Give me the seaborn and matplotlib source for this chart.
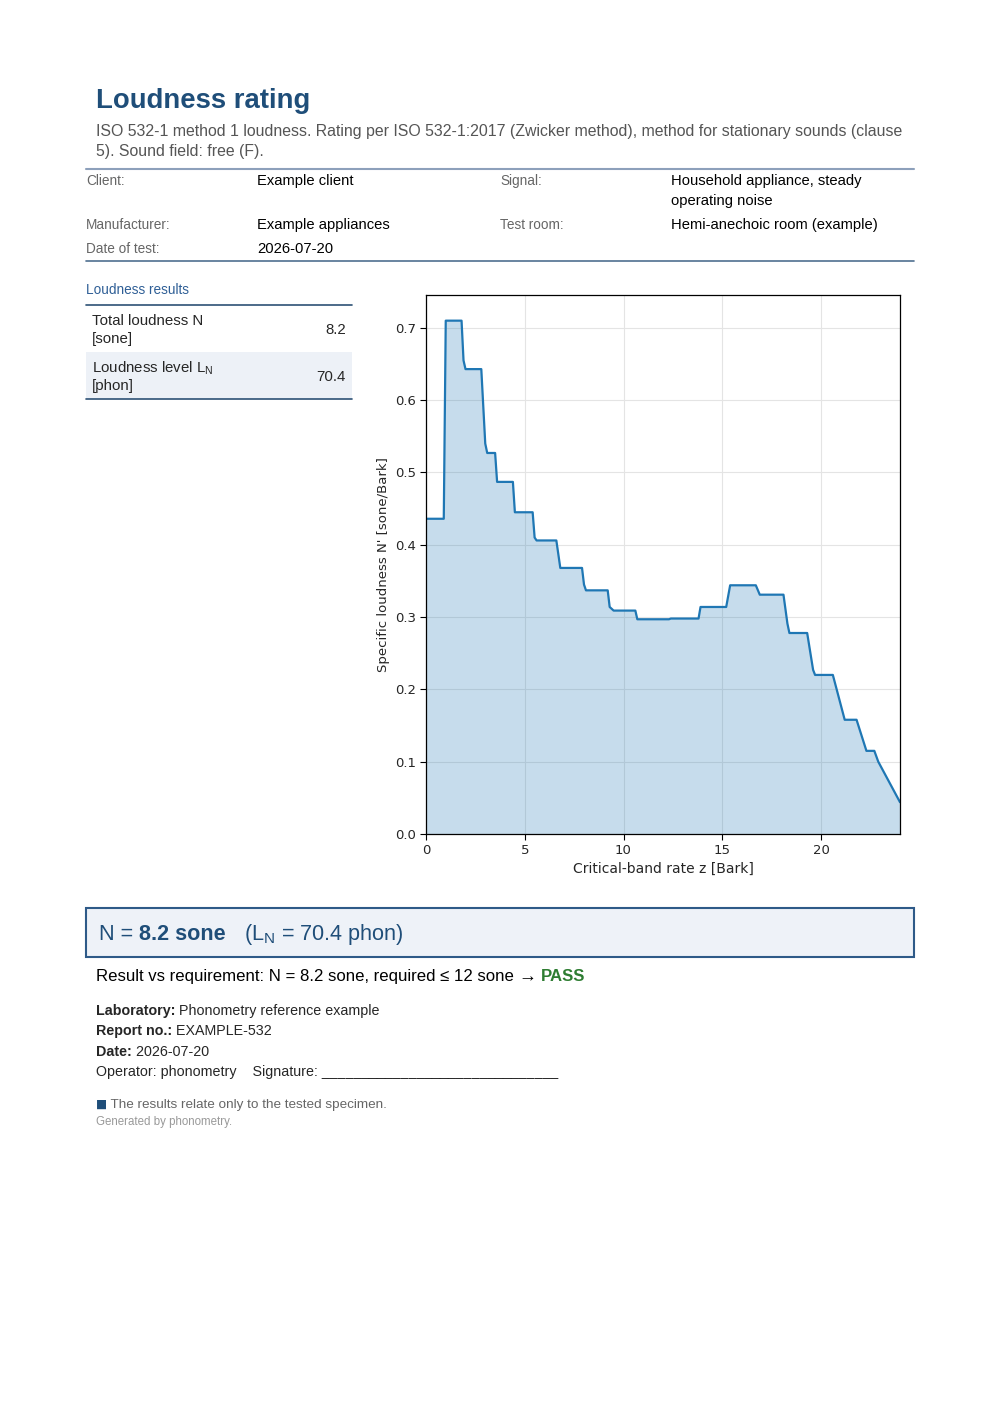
import numpy as np
import pandas as pd
import matplotlib
matplotlib.use("Agg")
import matplotlib.pyplot as plt
import seaborn as sns
from matplotlib.patches import Rectangle

# specific loudness curve, vertices (z in Bark, N' in sone/Bark)
z_bark = [0.0, 0.9, 1.0, 1.8, 1.9, 2.0, 2.8, 3.0, 3.1, 3.5, 3.6, 4.4, 4.5, 5.4, 5.5, 5.6,
          6.6, 6.8, 7.9, 8.0, 8.1, 9.2, 9.3, 9.5, 10.6, 10.7, 12.3, 12.4, 13.8, 13.9,
          15.2, 15.4, 16.7, 16.9, 18.1, 18.3, 18.4, 19.3, 19.6, 19.7, 20.6, 21.2, 21.8,
          22.3, 22.7, 22.9, 24.0]
n_spec = [0.436, 0.436, 0.710, 0.710, 0.655, 0.643, 0.643, 0.540, 0.527, 0.527, 0.487,
          0.487, 0.445, 0.445, 0.410, 0.406, 0.406, 0.368, 0.368, 0.345, 0.337, 0.337,
          0.314, 0.309, 0.309, 0.297, 0.297, 0.298, 0.298, 0.314, 0.314, 0.344, 0.344,
          0.331, 0.331, 0.291, 0.278, 0.278, 0.227, 0.220, 0.220, 0.158, 0.158, 0.115,
          0.115, 0.100, 0.044]

info_left = [("Client:", "Example client"), ("Manufacturer:", "Example appliances"),
             ("Date of test:", "2026-07-20")]
info_right = [("Signal:", "Household appliance, steady\noperating noise"),
              ("Test room:", "Hemi-anechoic room (example)")]
total_loudness = 8.2
loudness_level = 70.4
requirement = 12

TITLE = "#1f4e79"
W, H = 1000, 1415

sns.set_style("whitegrid", {"axes.edgecolor": "black", "grid.color": "#e6e6e6",
                            "xtick.bottom": True, "ytick.left": True})
plt.rcParams["mathtext.fontset"] = "custom"
plt.rcParams["mathtext.rm"] = "Liberation Sans"

fig = plt.figure(figsize=(10, 14.15), dpi=100)
renderer = fig.canvas.get_renderer()
SANS = "Liberation Sans"


def fx(x):
    return x / W


def fy(y):
    return 1 - y / H


def txt(x, y, s, **kw):
    kw.setdefault("family", SANS)
    kw.setdefault("va", "baseline")
    return fig.text(fx(x), fy(y), s, **kw)


def runs(x, y, parts, **kw):
    # draw text pieces one after another on one baseline
    for s, extra in parts:
        opts = dict(kw)
        opts.update(extra)
        t = txt(x, y, s, **opts)
        bb = t.get_window_extent(renderer)
        x = bb.x1


def hline(x0, x1, y, color, lw):
    fig.add_artist(plt.Line2D([fx(x0), fx(x1)], [fy(y), fy(y)], color=color, lw=lw))


# header
txt(96, 108, "Loudness rating", size=19.8, weight="bold", color=TITLE)
txt(96, 136, "ISO 532-1 method 1 loudness. Rating per ISO 532-1:2017 (Zwicker method), method for stationary sounds (clause",
    size=11.45, color="#555555")
txt(96, 156, "5). Sound field: free (F).", size=11.45, color="#555555")
hline(86, 914, 169, "#8da0bb", 1.5)

for (lab, val), yb in zip(info_left, [185, 229, 253]):
    txt(86, yb, lab, size=9.8, color="#666666")
    txt(257, yb, val, size=10.6, color="black")
for (lab, val), yb in zip(info_right, [185, 229]):
    txt(500, yb, lab, size=9.8, color="#666666")
    for i, line in enumerate(val.split("\n")):
        txt(671, yb + 20 * i, line, size=10.6, color="black")
hline(86, 914, 261, "#4f6f90", 1.2)

# results table
txt(86, 294, "Loudness results", size=9.8, color="#2f5f96")
fig.add_artist(Rectangle((fx(86), fy(399)), fx(352 - 86), (399 - 352) / H,
                         transform=fig.transFigure, facecolor="#edf1f7", edgecolor="none"))
hline(86, 352, 305, "#2e5276", 1.2)
hline(86, 352, 399, "#2e5276", 1.2)
txt(92, 325, "Total loudness N", size=10.8)
txt(92, 343, "[sone]", size=10.8)
txt(346, 334, f"{total_loudness:.1f}", size=10.8, ha="right")
txt(92, 372, "Loudness level L$_\\mathrm{N}$", size=10.8)
txt(92, 390, "[phon]", size=10.8)
txt(346, 381, f"{loudness_level:.1f}", size=10.8, ha="right")

# specific loudness chart
ax = fig.add_axes([0.426, 1 - 834 / H, 0.474, 539 / H])
df = pd.DataFrame({"z": z_bark, "N": n_spec})
ax.fill_between(df["z"], df["N"], 0, color="#1f77b4", alpha=0.25, lw=0)
sns.lineplot(data=df, x="z", y="N", ax=ax, color="#1f77b4", lw=1.6, sort=False)
ax.set_xlim(0, 24)
ax.set_ylim(0, max(n_spec) * 1.05)
ax.set_xticks([0, 5, 10, 15, 20])
ax.set_yticks(np.arange(0, 0.71, 0.1))
ax.yaxis.set_major_formatter(matplotlib.ticker.FormatStrFormatter("%.1f"))
ax.tick_params(labelsize=9.5, length=4, width=0.8, color="black", pad=3)
ax.set_xlabel("Critical-band rate z [Bark]", fontsize=10)
ax.set_ylabel("Specific loudness N' [sone/Bark]", fontsize=9.5)
for sp in ax.spines.values():
    sp.set_linewidth(0.9)
    sp.set_color("black")
ax.grid(True, color="#e4e4e4", lw=0.8)

# headline result box
fig.add_artist(Rectangle((fx(86), fy(957)), fx(914 - 86), (957 - 908) / H,
                         transform=fig.transFigure, facecolor="#eef2f8",
                         edgecolor="#2e5a88", lw=1.5))
runs(99, 940, [("N = ", {}), (f"{total_loudness:.1f} sone", {"weight": "bold"}),
               ("   (L$_\\mathrm{N}$ = " + f"{loudness_level:.1f} phon)", {})],
     size=15.6, color=TITLE)

runs(96, 981, [(f"Result vs requirement: N = {total_loudness:.1f} sone, required \u2264 {requirement} sone ", {}),
               ("\u2192", {"size": 13}),
               (" ", {}),
               ("PASS", {"weight": "bold", "color": "#2e7d32"})], size=12.1, color="black")

runs(96, 1015, [("Laboratory:", {"weight": "bold"}), (" Phonometry reference example", {})], size=10.3)
runs(96, 1035, [("Report no.:", {"weight": "bold"}), (" EXAMPLE-532", {})], size=10.3)
runs(96, 1056, [("Date:", {"weight": "bold"}), (" 2026-07-20", {})], size=10.3)
txt(96, 1076, "Operator: phonometry    Signature: " + "_" * 30, size=10.3)

runs(96, 1108, [("\u25a0", {"color": TITLE, "family": "DejaVu Sans", "size": 8.5}),
                (" The results relate only to the tested specimen.", {})], size=9.7, color="#666666")
txt(96, 1125, "Generated by phonometry.", size=8.3, color="#999999")

fig.savefig("out.png", dpi=100, facecolor="white")
